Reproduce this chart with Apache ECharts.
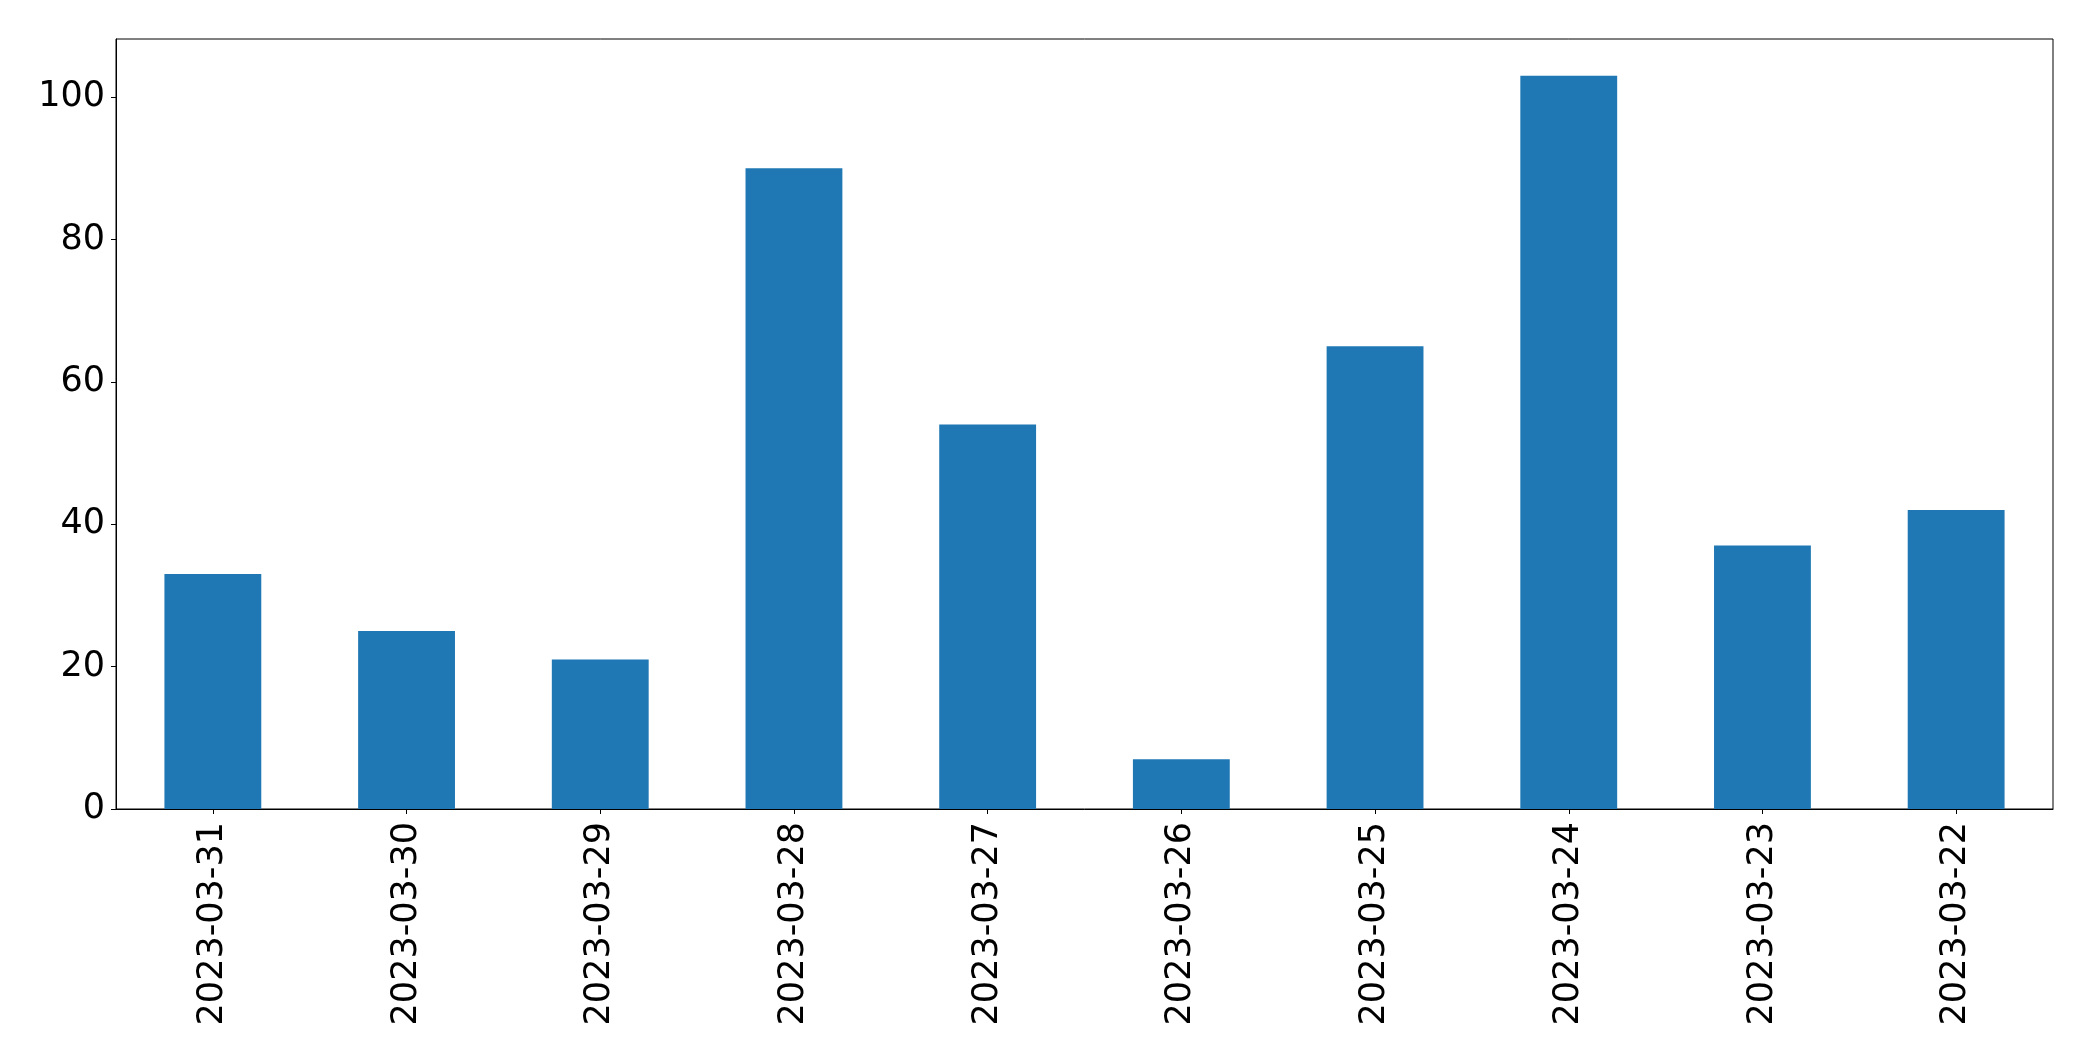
<!DOCTYPE html>
<html>
<head>
<meta charset="utf-8">
<script src="https://cdn.jsdelivr.net/npm/echarts@6/dist/echarts.min.js"></script>
<style>
html,body{margin:0;padding:0;background:#fff;}
#c{width:2093px;height:1061px;}
</style>
</head>
<body>
<div id="c"></div>
<script>
const categories = ["2023-03-31","2023-03-30","2023-03-29","2023-03-28","2023-03-27","2023-03-26","2023-03-25","2023-03-24","2023-03-23","2023-03-22"];
const values = [33, 25, 21, 90, 54, 7, 65, 103, 37, 42];
const yTicks = [0, 20, 40, 60, 80, 100];

const chart = echarts.init(document.getElementById('c'), null, {renderer:'canvas'});
const font = 'DejaVu Sans';
chart.setOption({
  animation: false,
  backgroundColor: '#fff',
  grid: {left:116, right:40, top:39, bottom:252, show:true, borderColor:'#000', borderWidth:1, backgroundColor:'transparent'},
  xAxis: {
    type:'category',
    data: categories,
    axisLine:{show:true, lineStyle:{color:'#000', width:1}},
    axisTick:{show:true, alignWithLabel:true, length:5, lineStyle:{color:'#000', width:1}},
    axisLabel:{rotate:90, fontSize:35, fontFamily:font, color:'#000', margin:13, interval:0}
  },
  yAxis: {
    type:'value',
    min:0, max:108.15,
    splitLine:{show:false},
    axisLine:{show:true, lineStyle:{color:'#000', width:1}},
    axisTick:{show:true, length:5, lineStyle:{color:'#000', width:1}, customValues: yTicks},
    axisLabel:{fontSize:35, fontFamily:font, color:'#000', margin:11, customValues: yTicks}
  },
  series: [{
    type:'bar',
    data: values,
    barWidth:'50%',
    itemStyle:{color:'#1f77b4'}
  }]
});
</script>
</body>
</html>
